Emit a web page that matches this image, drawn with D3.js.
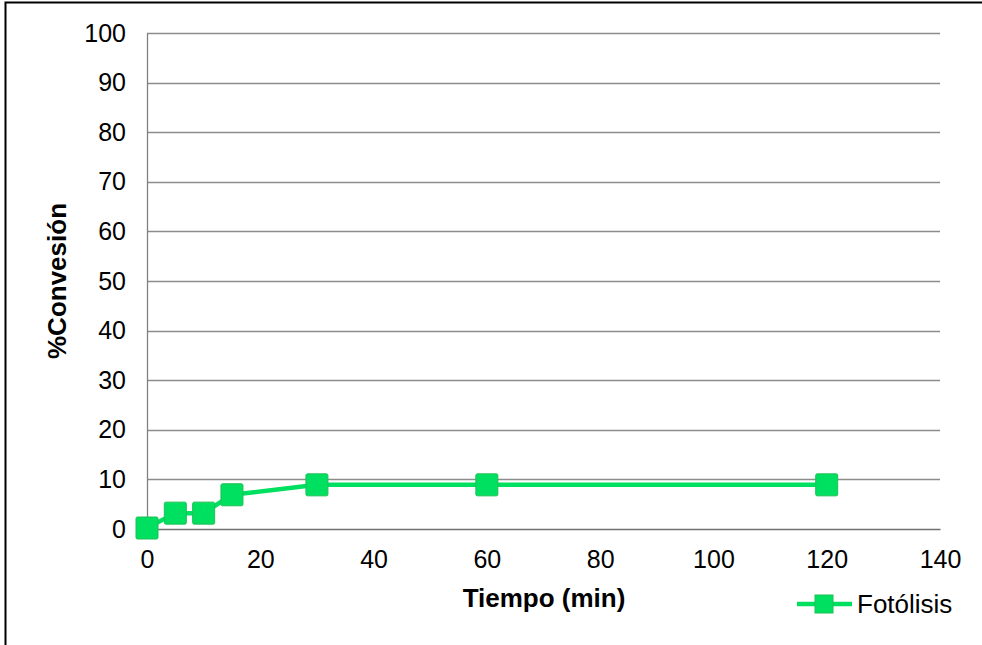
<!DOCTYPE html>
<html>
<head>
<meta charset="utf-8">
<script src="https://cdn.jsdelivr.net/npm/d3@7"></script>
<style>
  body { margin: 0; background: #fff; }
  text { font-family: "Liberation Sans", Arial, sans-serif; }
</style>
</head>
<body>
<div id="chart"></div>
<script>
// Data
var tiempo     = [0, 5, 10, 15, 30, 60, 120];
var conversion = [0.2, 3.2, 3.2, 6.9, 8.9, 8.9, 8.9];
var xTicks     = [0, 20, 40, 60, 80, 100, 120, 140];
var yTicks     = [0, 10, 20, 30, 40, 50, 60, 70, 80, 90, 100];
var seriesName = "Fotólisis";

var width  = 982,
    height = 645;

var plot = { left: 147, right: 940, top: 33, bottom: 529 };

var svg = d3.select("#chart")
    .append("svg")
    .attr("width", width)
    .attr("height", height);

// outer frame
svg.append("rect")
    .attr("x", 5.5).attr("y", 2.5)
    .attr("width", width).attr("height", height)
    .attr("fill", "none")
    .attr("stroke", "#000")
    .attr("stroke-width", 2);

var x = d3.scaleLinear().domain([0, 140]).range([plot.left, plot.right]);
var y = d3.scaleLinear().domain([0, 100]).range([plot.bottom, plot.top]);

// gridlines
svg.append("g")
    .selectAll("line")
    .data(yTicks.filter(function(d) { return d > 0; }))
    .enter().append("line")
    .attr("x1", plot.left).attr("x2", plot.right)
    .attr("y1", function(d) { return Math.round(y(d)) + 0.5; })
    .attr("y2", function(d) { return Math.round(y(d)) + 0.5; })
    .attr("stroke", "#8c8c8c")
    .attr("stroke-width", 1.3);

// y axis
var yAxis = svg.append("g")
    .attr("transform", "translate(" + plot.left + ",0)")
    .call(d3.axisLeft(y).tickValues(yTicks).tickSize(0).tickPadding(21));
yAxis.select(".domain").attr("stroke", "#808080").attr("stroke-width", 1.3);
yAxis.selectAll("text").attr("font-size", 25).attr("fill", "#000")
    .attr("font-family", "'Liberation Sans', Arial, sans-serif");

// x axis
var xAxis = svg.append("g")
    .attr("transform", "translate(0," + plot.bottom + ")")
    .call(d3.axisBottom(x).tickValues(xTicks).tickSize(0).tickPadding(21));
xAxis.select(".domain").attr("stroke", "#707070").attr("stroke-width", 1.5);
xAxis.selectAll("text").attr("font-size", 25).attr("fill", "#000")
    .attr("font-family", "'Liberation Sans', Arial, sans-serif");

// axis titles
svg.append("text")
    .attr("x", 544).attr("y", 607)
    .attr("text-anchor", "middle")
    .attr("font-size", 26).attr("font-weight", "bold")
    .text("Tiempo (min)");

svg.append("text")
    .attr("transform", "translate(66,281) rotate(-90)")
    .attr("text-anchor", "middle")
    .attr("font-size", 26).attr("font-weight", "bold")
    .text("%Convesión");

// series
var green = "#00e060", greenDark = "#1fbf55";
var pts = tiempo.map(function(t, i) { return [t, conversion[i]]; });

svg.append("path")
    .datum(pts)
    .attr("d", d3.line().x(function(d) { return x(d[0]); }).y(function(d) { return y(d[1]); }))
    .attr("fill", "none")
    .attr("stroke", green)
    .attr("stroke-width", 4.5);

var ms = 22;
svg.append("g").selectAll("rect")
    .data(pts)
    .enter().append("rect")
    .attr("x", function(d) { return x(d[0]) - ms / 2; })
    .attr("y", function(d) { return y(d[1]) - ms / 2; })
    .attr("width", ms).attr("height", ms)
    .attr("rx", 1.5)
    .attr("fill", green)
    .attr("stroke", greenDark)
    .attr("stroke-width", 1);

// legend
var lg = svg.append("g").attr("transform", "translate(797,604)");
lg.append("line")
    .attr("x1", 0).attr("x2", 55)
    .attr("stroke", green).attr("stroke-width", 4.5);
lg.append("rect")
    .attr("x", 18).attr("y", -9).attr("width", 18).attr("height", 18)
    .attr("fill", green).attr("stroke", greenDark).attr("stroke-width", 1);
lg.append("text")
    .attr("x", 60).attr("y", 9)
    .attr("font-size", 26)
    .text(seriesName);
</script>
</body>
</html>
